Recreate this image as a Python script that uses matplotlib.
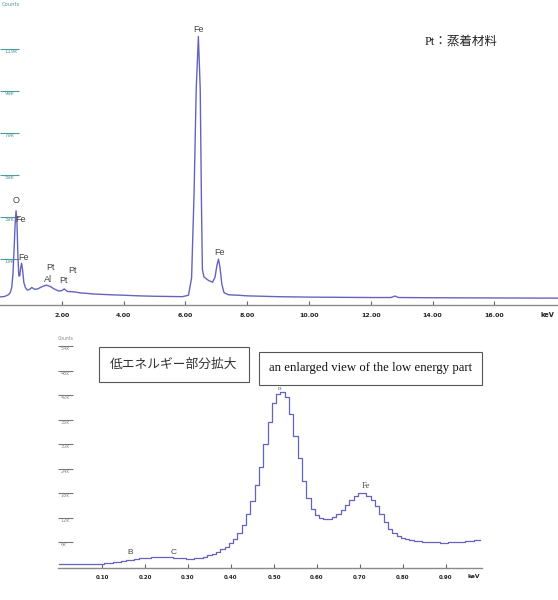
import numpy as np
import matplotlib
matplotlib.use("Agg")
import matplotlib.pyplot as plt

# ---------------- data ----------------
# Full spectrum (keV, kilo-counts)
full_energy = [0.00, 0.15, 0.27, 0.33, 0.38, 0.42, 0.46, 0.49, 0.52, 0.55, 0.58, 0.61,
               0.64, 0.67, 0.70, 0.73, 0.77, 0.82, 0.88, 0.95, 1.03, 1.12, 1.22, 1.35,
               1.50, 1.62, 1.75, 1.90, 2.00, 2.08, 2.18, 2.30, 2.45, 2.60, 2.80, 3.00,
               3.30, 3.60, 4.00, 4.50, 5.00, 5.50, 5.90, 6.10, 6.20, 6.28, 6.35, 6.42,
               6.48, 6.52, 6.55, 6.60, 6.75, 6.88, 6.96, 7.02, 7.07, 7.12, 7.18, 7.25,
               7.40, 7.70, 8.00, 9.00, 10.00, 11.00, 12.00, 12.65, 12.78, 12.90, 14.00,
               16.00, 18.10]
full_counts = [1.0, 1.2, 2.0, 3.0, 5.5, 12, 25, 36, 42, 36, 20, 11,
               11, 15, 17, 14, 8, 5.5, 4.3, 4.5, 5.5, 4.6, 4.8, 5.8,
               6.6, 6.0, 4.8, 3.8, 4.0, 4.8, 3.6, 3.5, 3.3, 2.9, 2.7, 2.4,
               2.2, 2.0, 1.8, 1.5, 1.3, 1.2, 1.1, 1.8, 10, 50, 100, 125,
               100, 45, 14, 10.5, 8.8, 8.0, 10.5, 16, 19, 15, 7, 3,
               2.0, 1.8, 1.5, 1.1, 0.9, 0.8, 0.7, 0.7, 1.4, 0.7, 0.6,
               0.5, 0.4]
full_ticks = [2, 4, 6, 8, 10, 12, 14, 16]
full_yticks = [19, 39, 59, 79, 99, 119]
full_peaks = [("O", 0.51, 46.8), ("Fe", 0.66, 38.0), ("Fe", 0.76, 19.9),
              ("Pt", 1.64, 15.1), ("Al", 1.56, 9.5), ("Pt", 2.07, 8.7),
              ("Pt", 2.35, 13.8), ("Fe", 6.42, 128.5), ("Fe", 7.09, 22.0)]

# Low-energy enlargement: channel counts (kilo-counts), 0.01 keV channels from 0.00
LOW_E_START = 0.0
LOW_E_STEP = 0.01
low_counts = [0.5, 0.5, 0.5, 0.5, 0.5, 0.5, 0.5, 0.5, 0.5, 0.5,
              0.6, 0.8, 0.9, 1.0, 1.1, 1.3, 1.5, 1.7, 1.9, 2.0,
              2.1, 2.2, 2.3, 2.4, 2.4, 2.4, 2.3, 2.2, 2.1, 2.0,
              1.9, 1.9, 2.0, 2.1, 2.3, 2.7, 3.1, 3.6, 4.2, 4.9,
              5.8, 6.8, 8.3, 10.2, 12.8, 16.0, 20.0, 24.5, 30.0, 35.5,
              40.0, 42.2, 42.7, 41.5, 37.5, 32.0, 26.5, 21.0, 16.8, 14.0,
              12.6, 12.0, 11.6, 11.7, 12.1, 12.8, 13.8, 15.0, 16.3, 17.3,
              17.9, 17.9, 17.3, 16.3, 14.8, 12.8, 10.8, 9.2, 8.1, 7.4,
              7.0, 6.7, 6.5, 6.3, 6.2, 6.1, 6.0, 5.9, 5.9, 5.8,
              5.8, 5.9, 5.9, 6.0, 6.1, 6.2, 6.3, 6.5, 6.6]
low_ticks = [0.1, 0.2, 0.3, 0.4, 0.5, 0.6, 0.7, 0.8, 0.9]
low_yticks = [6, 12, 18, 24, 30, 36, 42, 48, 54]
low_peaks = [("B", 0.165, 3.5, "Liberation Sans"), ("C", 0.267, 3.4, "Liberation Sans"),
             ("o", 0.513, 43.7, "Liberation Serif"), ("Fe", 0.714, 19.7, "Liberation Serif")]

# ---------------- layout ----------------
W, H = 558, 600
fig = plt.figure(figsize=(W / 100, H / 100), dpi=100)
fig.patch.set_facecolor("white")


def rect(l, t, r, b):
    return [l / W, 1 - b / H, (r - l) / W, (b - t) / H]


LINE = "#6464bf"
TEAL = "#4f9a9a"

# ---------- top chart ----------
ax1 = fig.add_axes(rect(0, 10, 558, 305))
ax1.plot(full_energy, full_counts, color=LINE, lw=1.0)
ax1.set_xlim(0, 558 / 30.9)
ax1.set_ylim((299 - 305) / 2.1, (299 - 10) / 2.1)
for s in ("top", "right", "left"):
    ax1.spines[s].set_visible(False)
ax1.spines["bottom"].set_color("#8a8a8a")
ax1.spines["bottom"].set_linewidth(1.0)
ax1.set_xticks(full_ticks)
ax1.set_xticklabels([f"{v:.2f}" for v in full_ticks], fontweight="bold",
                    fontfamily="DejaVu Sans")
ax1.tick_params(axis="x", direction="in", length=3, width=0.8, color="#666666",
                labelsize=4.5, pad=6, labelcolor="#222222")
ax1.set_yticks(full_yticks)
ax1.set_yticklabels([f"{v}k" for v in full_yticks])
ax1.tick_params(axis="y", direction="in", length=14, width=0.8, color=TEAL,
                labelsize=3.8, labelcolor=TEAL, pad=-3)
for lbl in ax1.get_yticklabels():
    lbl.set_ha("left")
    lbl.set_va("top")
for name, x, y in full_peaks:
    ax1.text(x, y, name, ha="center", va="center", fontsize=6.5,
             color="#444444", family="Liberation Sans")
fig.text(2 / W, 1 - 5 / H, "Counts", fontsize=3.8, color=TEAL, va="center", ha="left")
fig.text(547 / W, 1 - 315 / H, "keV", fontsize=4.8, fontweight="bold",
         color="#222222", ha="center", va="center")
fig.text(425 / W, 1 - 42 / H, "Pt：蒸着材料", fontsize=9, color="#222222",
         family=["Liberation Serif", "Noto Sans CJK JP"], ha="left", va="center")

# ---------- bottom chart ----------
ax2 = fig.add_axes(rect(58, 340, 482, 568))
low_energy = LOW_E_START + LOW_E_STEP * np.arange(len(low_counts))
ax2.plot(low_energy, low_counts, color=LINE, lw=0.9, drawstyle="steps-mid")
ax2.set_xlim((58 - 59) / 430, (482 - 59) / 430)
ax2.set_ylim((566.5 - 568) / 4.08, (566.5 - 340) / 4.08)
for s in ("top", "right", "left"):
    ax2.spines[s].set_visible(False)
ax2.spines["bottom"].set_color("#8a8a8a")
ax2.spines["bottom"].set_linewidth(1.0)
ax2.set_xticks(low_ticks)
ax2.set_xticklabels([f"{v:.2f}" for v in low_ticks], fontweight="bold",
                    fontfamily="DejaVu Sans")
ax2.tick_params(axis="x", direction="in", length=3, width=0.8, color="#666666",
                labelsize=4.0, pad=5, labelcolor="#222222")
ax2.set_yticks(low_yticks)
ax2.set_yticklabels([f"{v}k" for v in low_yticks])
ax2.tick_params(axis="y", direction="in", length=11, width=0.8, color="#777777",
                labelsize=3.5, labelcolor="#888888", pad=-2)
for lbl in ax2.get_yticklabels():
    lbl.set_ha("left")
    lbl.set_va("top")

# annotation boxes
fig.text(174 / W, 1 - 364.5 / H, "低エネルギー部分拡大", fontsize=9.2, color="#333333",
         family=["Noto Sans CJK JP"], ha="center", va="center",
         bbox=dict(boxstyle="square,pad=0.85", fc="white", ec="#555555", lw=0.8))
fig.text(370.5 / W, 1 - 368.5 / H, "an enlarged view of the low energy part",
         fontsize=9.2, color="#111111", family="Liberation Serif", ha="center",
         va="center",
         bbox=dict(boxstyle="square,pad=0.8", fc="white", ec="#555555", lw=0.8))

for name, x, y, fam in low_peaks:
    ax2.text(x, y, name, ha="center", va="center", fontsize=6 if name != "o" else 5,
             color="#444444", family=fam, zorder=10)
fig.text(58 / W, 1 - 338 / H, "Counts", fontsize=3.3, color="#888888",
         va="center", ha="left")
fig.text(474 / W, 1 - 576 / H, "keV", fontsize=4.3, fontweight="bold",
         color="#222222", ha="center", va="center")

fig.savefig("out.png", dpi=100)
